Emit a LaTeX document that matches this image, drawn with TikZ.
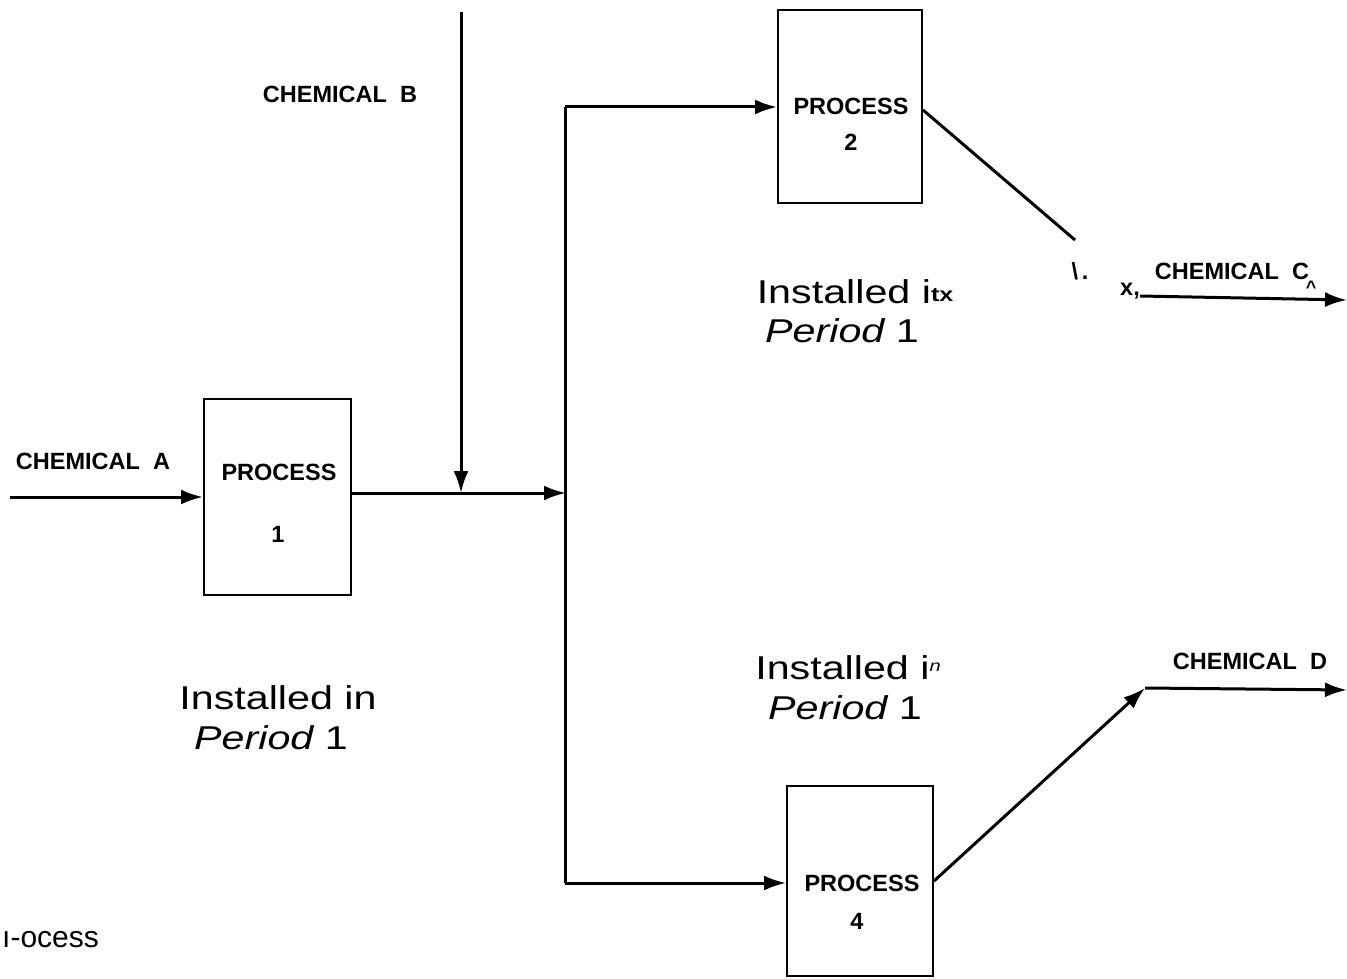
\documentclass[tikz,border=0pt]{standalone}
\usepackage{fontspec}
\setmainfont{Liberation Sans}
\newfontfamily\widefont[FakeStretch=1.25]{Liberation Sans}
\usetikzlibrary{arrows.meta}
\tikzset{
  box/.style={draw, line width=2pt, inner sep=0pt},
  conn/.style={line width=3pt},
  arr/.style={conn, -{Latex[length=22pt,width=15pt]}},
  lbl/.style={font=\fontsize{23.5}{25}\selectfont\bfseries, inner sep=0pt},
  inst/.style={font=\fontsize{33}{36}\selectfont\widefont, inner sep=0pt},
}
\begin{document}
\begin{tikzpicture}[x=1pt,y=-1pt]
\useasboundingbox[fill=white] (0,0) rectangle (1347,979);

% boxes
\node[box, minimum width=147pt, minimum height=196pt] (p1) at (277.5,497) {};
\node[box, minimum width=144pt, minimum height=193pt] (p2) at (850,106.5) {};
\node[box, minimum width=146pt, minimum height=190pt] (p4) at (860,881) {};

% box texts
\node[lbl] (p1a) at (279,472) {PROCESS};
\node[lbl] (p1b) at (278,534) {1};
\node[lbl] (p2a) at (851,106) {PROCESS};
\node[lbl] (p2b) at (851,142) {2};
\node[lbl] (p4a) at (862,883) {PROCESS};
\node[lbl] (p4b) at (857,921) {4};

% coordinates
\coordinate (aStart) at (10,497);
\coordinate (j) at (566,493);
\coordinate (bTop) at (461,12);
\coordinate (bEnd) at (461,493);
\coordinate (vTop) at (565,107);
\coordinate (vBot) at (565,883);
\coordinate (c1) at (1075,240);
\coordinate (c2) at (1140,296);
\coordinate (c3) at (1347,300);
\coordinate (d1) at (1145,688);
\coordinate (d2) at (1347,690);

% connectors
\draw[arr] (aStart) -- (p1.west);
\draw[arr] (p1.east |- j) -- (j);
\draw[arr] (bTop) -- (bEnd);
\draw[conn] (vTop) -- (vBot);
\draw[arr] (vTop) -- (p2.west |- vTop);
\draw[arr] (vBot) -- (p4.west |- vBot);
\draw[conn] (p2.east |- 0,110) -- (c1);
\draw[arr] (c2) -- (c3);
\draw[arr] (p4.east) -- (d1);
\draw[arr] (d1) -- (d2);

% chemical labels
\node[lbl] (chA) at (93,461) {CHEMICAL\ \ A};
\node[lbl] (chB) at (340,94) {CHEMICAL\ \ B};
\node[lbl] (chC) at (1232,271) {CHEMICAL\ \ C};
\node[lbl] (chCx) at (1311,287) {\fontsize{18}{18}\selectfont\textasciicircum};
\node[lbl] (bs) at (1080,271) {\textbackslash\,.};
\node[lbl] (xx) at (1130,291) {x,};
\node[lbl] (chD) at (1250,661) {CHEMICAL\ \ D};

% installed labels
\node[inst] (i1a) at (278,698) {Installed in};
\node[inst] (i1b) at (271,738) {\itshape Period\upshape\ 1};
\node[inst] (i2a) at (855,292) {Installed i\raisebox{2pt}{\fontsize{20}{20}\selectfont\bfseries tx}};
\node[inst] (i2b) at (842,331) {\itshape Period\upshape\ 1};
\node[inst] (i3a) at (848,668) {Installed i\raisebox{8pt}{\fontsize{16}{16}\selectfont\itshape n}};
\node[inst] (i3b) at (845,708) {\itshape Period\upshape\ 1};

% stray text bottom left
\node[font=\fontsize{30}{32}\selectfont, inner sep=0pt, anchor=west] (proc) at (2,940) {ı-ocess};
\end{tikzpicture}
\end{document}
